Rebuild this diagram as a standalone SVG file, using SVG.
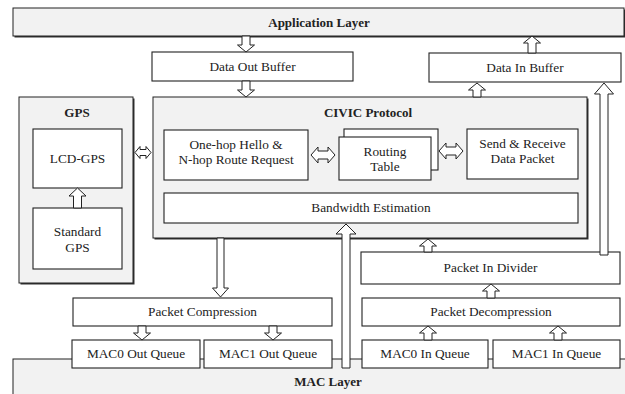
<svg xmlns="http://www.w3.org/2000/svg" width="625" height="394" viewBox="0 0 625 394" font-family="Liberation Serif, DejaVu Serif, serif">
<defs>
<style>
.layer{fill:#f2f2f2;stroke:#222;stroke-width:1}
.shadow{fill:#333;stroke:none}
.box{fill:#fff;stroke:#222;stroke-width:1.1}
.arrow{fill:#fff;stroke:#222;stroke-width:1;stroke-linejoin:miter}
text{font-family:'Liberation Serif','DejaVu Serif',serif;font-size:13.3px;fill:#222;text-anchor:middle}
.title{font-weight:bold;font-size:13px}
</style>
</defs>
<rect width="625" height="394" fill="#fff"/>

<g id="application-layer">
<rect class="shadow" x="14.5" y="9.5" width="611" height="28"/>
<rect class="layer" x="13" y="8" width="611" height="28"/>
<text class="title" x="319" y="27">Application Layer</text>
</g>

<g id="mac-layer">
<rect class="shadow" x="14.5" y="360.5" width="620" height="40"/>
<rect class="layer" x="13" y="359" width="620" height="40"/>
<text class="title" x="328" y="386">MAC Layer</text>
</g>

<g id="data-out-buffer">
<rect class="box" x="152" y="52" width="201" height="29"/>
<text x="252.5" y="71">Data Out Buffer</text>
</g>

<g id="data-in-buffer">
<rect class="box" x="429" y="53" width="192" height="29"/>
<text x="525" y="72">Data In Buffer</text>
</g>

<g id="gps">
<rect class="shadow" x="20.5" y="98.5" width="114" height="186"/>
<rect class="layer" x="19" y="97" width="114" height="186"/>
<text class="title" x="77" y="117">GPS</text>
</g>

<g id="lcd-gps">
<rect class="box" x="33" y="129" width="89" height="59"/>
<text x="77.5" y="163">LCD-GPS</text>
</g>

<g id="standard-gps">
<rect class="box" x="33" y="208" width="89" height="61"/>
<text x="77.5" y="236">Standard</text>
<text x="77.5" y="252">GPS</text>
</g>

<g id="civic-protocol">
<rect class="shadow" x="154.5" y="98.5" width="434" height="141"/>
<rect class="layer" x="153" y="97" width="434" height="141"/>
<text class="title" x="368" y="117">CIVIC Protocol</text>
</g>

<g id="one-hop-hello">
<rect class="box" x="164" y="130" width="144" height="50"/>
<text x="236" y="149">One-hop Hello &amp;</text>
<text x="236" y="164">N-hop Route Request</text>
</g>

<g id="routing-table">
<rect class="box" x="344" y="129" width="94" height="41"/>
<rect class="box" x="339" y="137" width="92" height="43"/>
<text x="385" y="156">Routing</text>
<text x="385" y="171">Table</text>
</g>

<g id="send-receive">
<rect class="box" x="467" y="129" width="111" height="50"/>
<text x="522.5" y="148">Send &amp; Receive</text>
<text x="522.5" y="163">Data Packet</text>
</g>

<g id="bandwidth-estimation">
<rect class="box" x="164" y="193" width="414" height="30"/>
<text x="371" y="212">Bandwidth Estimation</text>
</g>

<g id="packet-in-divider">
<rect class="box" x="361" y="252" width="259" height="32"/>
<text x="490.5" y="272">Packet In Divider</text>
</g>

<g id="packet-decompression">
<rect class="box" x="362" y="298" width="258" height="28"/>
<text x="491" y="316">Packet Decompression</text>
</g>

<g id="packet-compression">
<rect class="box" x="73" y="298" width="259" height="28"/>
<text x="202.5" y="316">Packet Compression</text>
</g>

<g id="mac0-out-queue">
<rect class="box" x="72" y="340" width="128" height="28"/>
<text x="136" y="358">MAC0 Out Queue</text>
</g>

<g id="mac1-out-queue">
<rect class="box" x="204" y="340" width="128" height="28"/>
<text x="268" y="358">MAC1 Out Queue</text>
</g>

<g id="mac0-in-queue">
<rect class="box" x="362" y="340" width="126" height="28"/>
<text x="425" y="358">MAC0 In Queue</text>
</g>

<g id="mac1-in-queue">
<rect class="box" x="493" y="340" width="127" height="28"/>
<text x="556.5" y="358">MAC1 In Queue</text>
</g>

<g id="connectors">
<path class="arrow" d="M242,36 L250,36 L250,45 L254.5,45 L246,52 L237.5,45 L242,45 Z"/>
<path class="arrow" d="M242,81 L250,81 L250,90 L254.5,90 L246,97 L237.5,90 L242,90 Z"/>
<path class="arrow" d="M528,53 L536,53 L536,43 L540.5,43 L532,36 L523.5,43 L528,43 Z"/>
<path class="arrow" d="M473,97 L481,97 L481,90 L485.5,90 L477,83 L468.5,90 L473,90 Z"/>
<path class="arrow" d="M600,255 L608,255 L608,94 L613.5,94 L604,83 L594.5,94 L600,94 Z"/>
<path class="arrow" d="M342,368 L350,368 L350,234 L356,234 L346,224 L336,234 L342,234 Z"/>
<path class="arrow" d="M424,252 L432,252 L432,246 L436.5,246 L428,239 L419.5,246 L424,246 Z"/>
<path class="arrow" d="M487,298 L495,298 L495,291 L499.5,291 L491,284 L482.5,291 L487,291 Z"/>
<path class="arrow" d="M424,340 L432,340 L432,333 L436.5,333 L428,326 L419.5,333 L424,333 Z"/>
<path class="arrow" d="M554,340 L562,340 L562,333 L566.5,333 L558,326 L549.5,333 L554,333 Z"/>
<path class="arrow" d="M217,238 L224,238 L224,288 L228.5,288 L220.5,297 L212.5,288 L217,288 Z"/>
<path class="arrow" d="M138,326 L146,326 L146,333 L150.5,333 L142,340 L133.5,333 L138,333 Z"/>
<path class="arrow" d="M269,326 L277,326 L277,333 L281.5,333 L273,340 L264.5,333 L269,333 Z"/>
<path class="arrow" d="M73.5,208 L81.5,208 L81.5,196 L86,196 L77.5,188 L69,196 L73.5,196 Z"/>
<path class="arrow" d="M135,152.5 L140,146.5 L140,149.5 L146,149.5 L146,146.5 L151,152.5 L146,158.5 L146,155.5 L140,155.5 L140,158.5 Z"/>
<path class="arrow" d="M311,155 L318,147 L318,151 L328,151 L328,147 L335,155 L328,163 L328,159 L318,159 L318,163 Z"/>
<path class="arrow" d="M439,151 L446,143 L446,147 L456,147 L456,143 L463,151 L456,159 L456,155 L446,155 L446,159 Z"/>
</g>
</svg>
